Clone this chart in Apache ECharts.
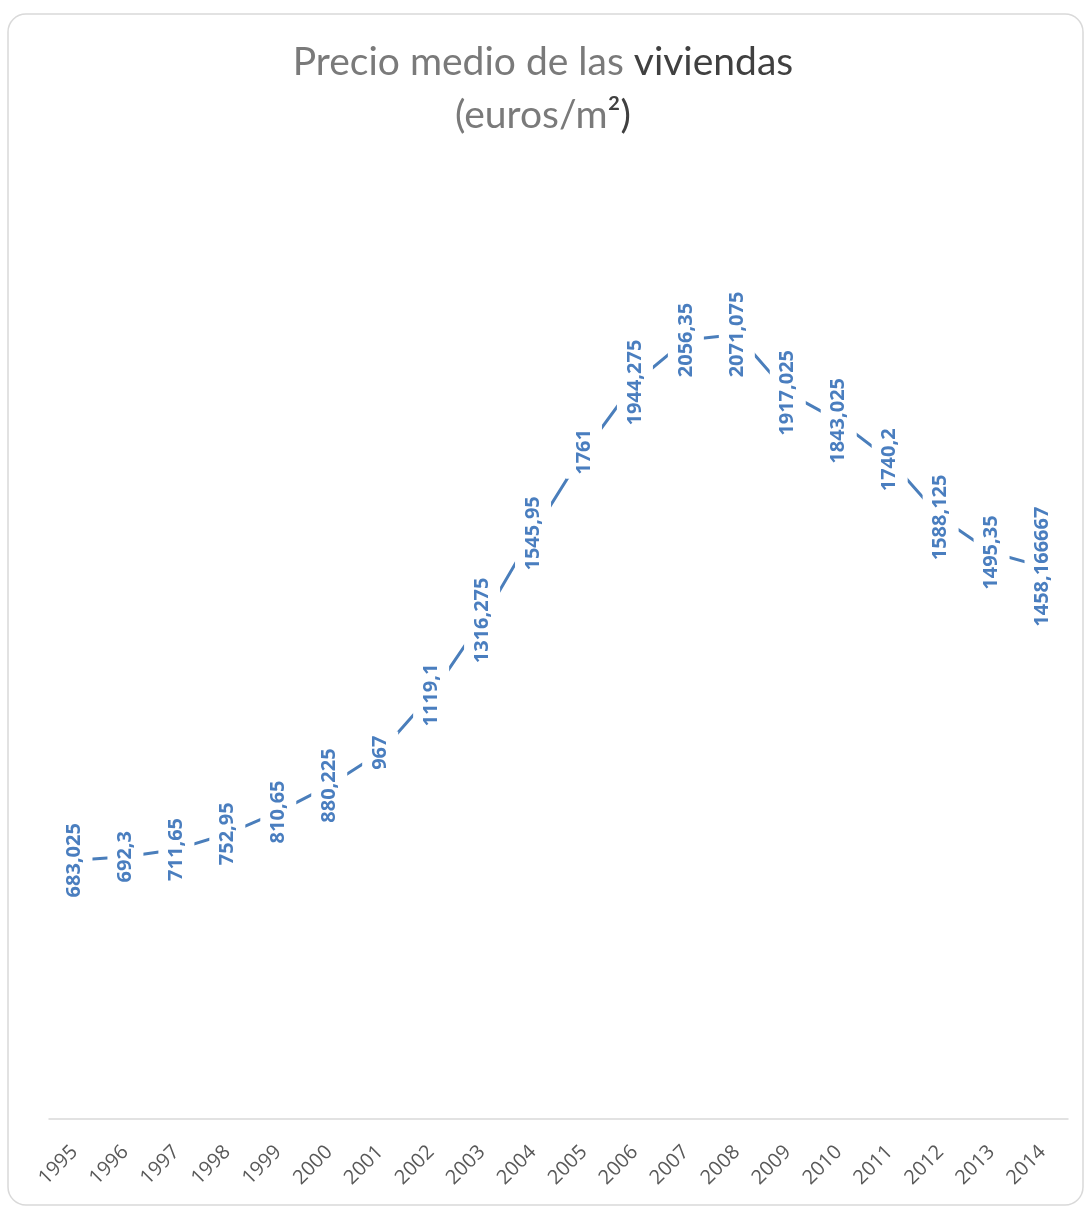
<!DOCTYPE html>
<html>
<head>
<meta charset="utf-8">
<style>
  html, body { margin: 0; padding: 0; background: #ffffff; }
  #chart { width: 1086px; height: 1207px; }
</style>
<script src="https://cdn.jsdelivr.net/npm/echarts@6/dist/echarts.min.js"></script>
</head>
<body>
<div id="chart"></div>
<script>
// Años y precio medio (euros/m²)
const years = ['1995', '1996', '1997', '1998', '1999', '2000', '2001', '2002', '2003', '2004',
               '2005', '2006', '2007', '2008', '2009', '2010', '2011', '2012', '2013', '2014'];
const precios = [683.025, 692.3, 711.65, 752.95, 810.65, 880.225, 967, 1119.1, 1316.275, 1545.95,
                 1761, 1944.275, 2056.35, 2071.075, 1917.025, 1843.025, 1740.2, 1588.125, 1495.35, 1458.166667];

const azul = '#4a7ebb';

const chart = echarts.init(document.getElementById('chart'), null, { renderer: 'canvas' });

// número con coma decimal, como en las etiquetas
const conComa = v => String(v).replace('.', ',');

chart.setOption({
  backgroundColor: '#ffffff',
  animation: false,
  title: {
    left: 'center',
    top: 31,
    text: '{g|Precio medio de las }{d|viviendas}\n{g|(euros/m}{d|²)}',
    textStyle: {
      fontFamily: 'Lato',
      fontWeight: 'normal',
      fontSize: 39,
      lineHeight: 53,
      rich: {
        g: { color: '#7a7a7a', fontFamily: 'Lato', fontWeight: 'normal', fontSize: 39, lineHeight: 53 },
        d: { color: '#404040', fontFamily: 'Lato', fontWeight: 'normal', fontSize: 39, lineHeight: 53 }
      }
    }
  },
  graphic: [{
    type: 'rect',
    silent: true,
    z: -10,
    shape: { x: 8, y: 14, width: 1075, height: 1191, r: 18 },
    style: { fill: 'none', stroke: '#d9d9d9', lineWidth: 1.5 }
  }],
  grid: { left: 49, right: 18, top: 172, bottom: 88, containLabel: false },
  xAxis: {
    type: 'category',
    data: years,
    boundaryGap: true,
    axisLine: { show: true, lineStyle: { color: '#d9d9d9', width: 1.5 } },
    axisTick: { show: false },
    axisLabel: {
      rotate: 45,
      margin: 30,
      color: '#595959',
      fontFamily: 'Open Sans',
      fontSize: 20
    },
    splitLine: { show: false }
  },
  yAxis: {
    type: 'value',
    min: 0,
    max: 2500,
    interval: 500,
    show: false,
    splitLine: { show: false }
  },
  series: [
    {
      type: 'line',
      data: precios,
      z: 2,
      symbol: 'none',
      lineStyle: { color: azul, width: 3 },
      label: { show: false }
    },
    {
      // etiquetas de valor con fondo blanco sobre la línea
      type: 'scatter',
      data: precios,
      z: 5,
      symbol: 'circle',
      symbolSize: 1,
      itemStyle: { color: 'rgba(0,0,0,0)', opacity: 1 },
      label: {
        show: true,
        position: 'inside',
        rotate: 90,
        formatter: p => conComa(p.value),
        color: '#4a7ebf',
        opacity: 1,
        fontFamily: 'Noto Sans',
        fontWeight: 'bold',
        fontSize: 20,
        lineHeight: 24,
        backgroundColor: '#ffffff',
        padding: [6, 4]
      }
    }
  ]
});
</script>
</body>
</html>
